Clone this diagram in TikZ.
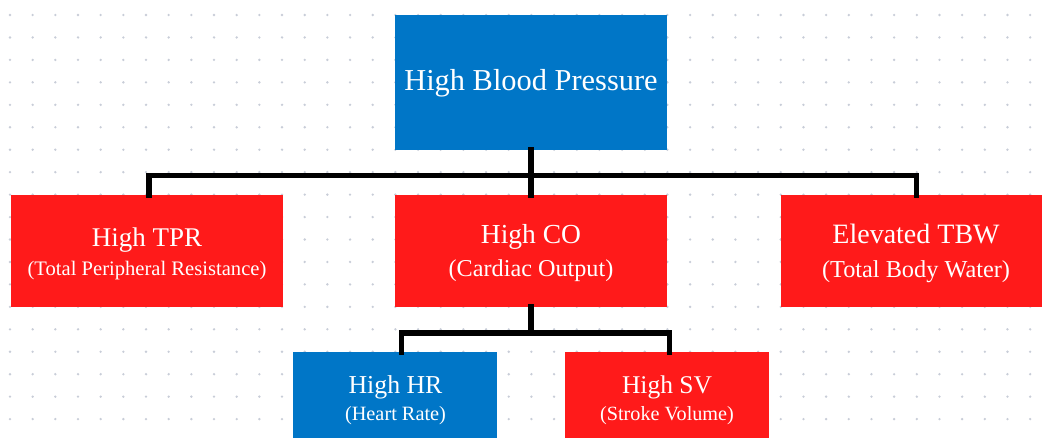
\documentclass[tikz,border=0pt]{standalone}
\usepackage{fontspec}
\setmainfont{Liberation Serif}
\definecolor{boxblue}{RGB}{0,118,199}
\definecolor{boxred}{RGB}{255,26,26}
\definecolor{dotgray}{RGB}{200,205,216}
\tikzset{
  box/.style={draw=none, inner sep=0pt, minimum width=272pt},
  bluebox/.style={box, fill=boxblue},
  redbox/.style={box, fill=boxred},
  conn/.style={draw=black, line width=5.5pt, line join=miter, line cap=rect},
  lbl/.style={text=white, inner sep=0pt, anchor=base},
}
\newcommand{\fsz}[1]{\fontsize{#1}{#1}\selectfont}
\begin{document}
\begin{tikzpicture}[x=1pt,y=-1pt]
\useasboundingbox (0,0) rectangle (1042,437);
\fill[white] (0,0) rectangle (1042,437);
% dot grid
\foreach \i in {0,...,45}{
  \foreach \j in {0,...,18}{
    \fill[dotgray] ({10+\i*22.67},{15+\j*22.45}) circle (1.3pt);
  }
}
% boxes
\node[bluebox, minimum height=135pt] (hbp) at (531,82.5) {};
\node[redbox, minimum height=112pt] (tpr) at (147,251) {};
\node[redbox, minimum height=112pt] (co) at (531,251) {};
\node[redbox, minimum height=112pt] (tbw) at (916.5,251) {};
\node[bluebox, minimum width=204pt, minimum height=100pt] (hr) at (395,402) {};
\node[redbox, minimum width=204pt, minimum height=100pt] (sv) at (667,402) {};
% connectors
\coordinate (bus) at (531,175.3);
\coordinate (busl) at (149,175.3);
\coordinate (busr) at (916.7,175.3);
\draw[conn] (hbp.south) -- (co.north);
\draw[conn] (busl |- tpr.north) -- (busl) -- (busr) -- (busr |- tbw.north);
\coordinate (bl) at (401.5,333);
\coordinate (br) at (669.5,333);
\draw[conn] (co.south) -- (co.south |- bl);
\draw[conn] (bl |- hr.north) -- (bl) -- (br) -- (br |- sv.north);
% labels
\node[lbl] (t1) at (531,90.7) {\fsz{30.4}High Blood Pressure};
\node[lbl] (t2) at (147,246.7) {\fsz{27}High TPR};
\node[lbl] (t2s) at (147,275) {\fsz{20.6}(Total Peripheral Resistance)};
\node[lbl] (t3) at (531,243.3) {\fsz{27.5}High CO};
\node[lbl] (t3s) at (531,276.5) {\fsz{24.2}(Cardiac Output)};
\node[lbl] (t4) at (916,243.3) {\fsz{28}Elevated TBW};
\node[lbl] (t4s) at (916,277) {\fsz{24.3}(Total Body Water)};
\node[lbl] (t5) at (395.5,393.3) {\fsz{25.8}High HR};
\node[lbl] (t5s) at (395.5,420) {\fsz{20.3}(Heart Rate)};
\node[lbl] (t6) at (667,393.3) {\fsz{25.5}High SV};
\node[lbl] (t6s) at (667,420) {\fsz{20.2}(Stroke Volume)};
\end{tikzpicture}
\end{document}
